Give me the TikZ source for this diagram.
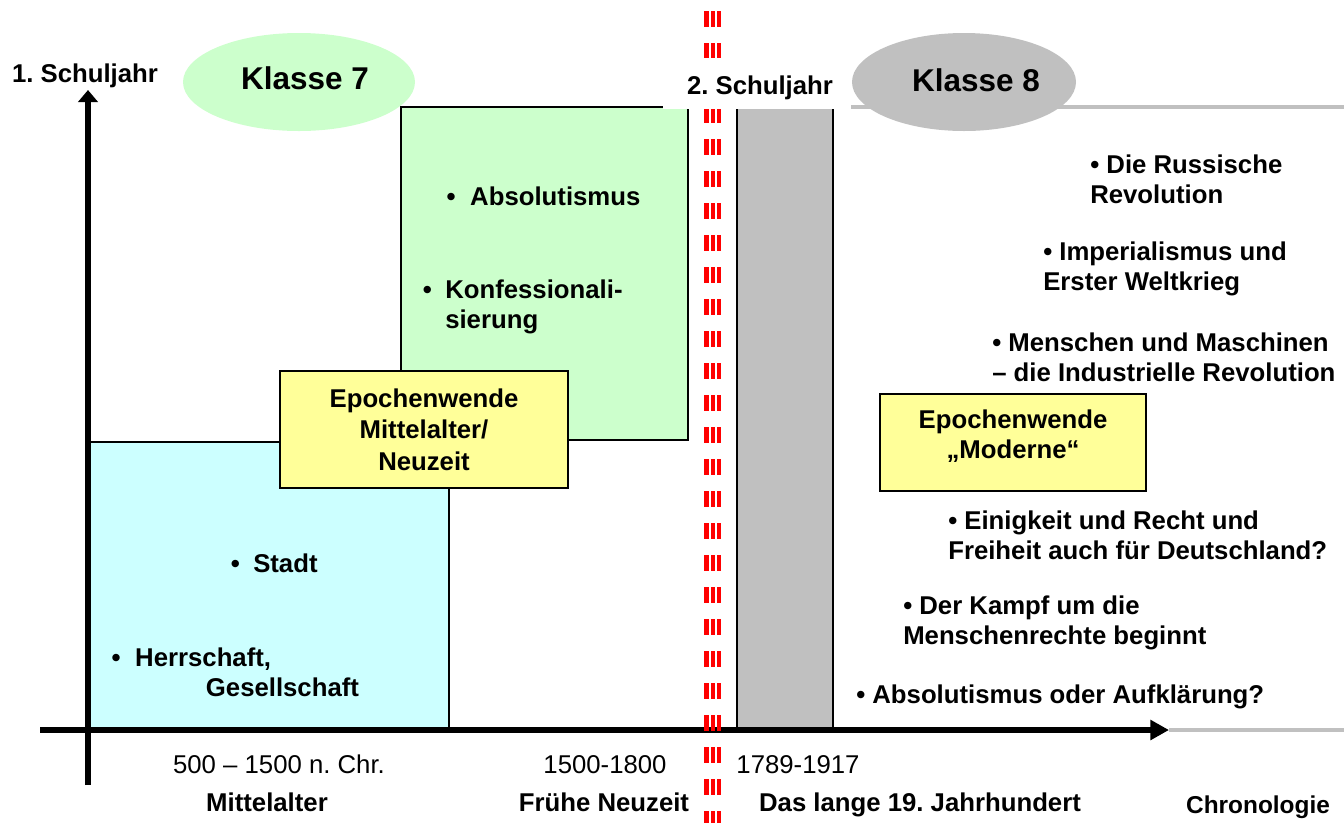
\documentclass[tikz,border=0pt]{standalone}
\usepackage{fontspec}
\setmainfont{Liberation Sans}
\usetikzlibrary{arrows.meta,shapes.geometric}
\definecolor{boxgreen}{HTML}{CCFFCC}
\definecolor{boxcyan}{HTML}{CCFFFF}
\definecolor{boxyellow}{HTML}{FFFF99}
\definecolor{barGray}{HTML}{C0C0C0}
\newcommand{\bodyfont}{\fontsize{19.3}{22.5}\selectfont\bfseries}
\newcommand{\wendefont}{\fontsize{19.3}{23.5}\selectfont\bfseries}
\newcommand{\datefont}{\fontsize{19.3}{22.5}\selectfont}
\newcommand{\bigfont}{\fontsize{23.6}{27}\selectfont\bfseries}
\newcommand{\bul}{\textbullet}
\frenchspacing
\begin{document}
\begin{tikzpicture}[x=0.75pt,y=-0.75pt,
  panel/.style={draw=black,line width=1.2pt,inner sep=0pt,outer sep=0pt},
  wende/.style={panel,fill=boxyellow,line width=1.6pt},
  txt/.style={font=\bodyfont,inner sep=0pt,align=left,anchor=west},
  ctxt/.style={font=\bodyfont,inner sep=0pt,align=center},
  btxt/.style={font=\bodyfont,inner sep=0pt,anchor=base},
  datelbl/.style={font=\datefont,inner sep=0pt,anchor=base},
  klasse/.style={ellipse,inner sep=0pt,draw=none},
  axisline/.style={line width=4.5pt},
  redbar/.style={draw=red,line width=3.4pt,dash pattern=on 12pt off 12pt},
  grayline/.style={draw=barGray,line width=3pt},
]
\useasboundingbox (0,0) rectangle (1344,822);

% year ellipses and top line
\node[klasse,fill=boxgreen,minimum width=232*0.75pt,minimum height=98*0.75pt] (k7) at (299,82) {};
\coordinate (topL) at (851,107);
\coordinate (topR) at (1344,107);
\draw[grayline] (topL) -- (topR);
\node[klasse,fill=barGray,minimum width=224*0.75pt,minimum height=98*0.75pt] (k8) at (964,82) {};
\node[font=\bigfont,inner sep=0pt,anchor=base] (k7t) at (305,89) {Klasse 7};
\node[font=\bigfont,inner sep=0pt,anchor=base] (k8t) at (976,91) {Klasse 8};

% epoch panels
\node[panel,fill=boxcyan,minimum width=359*0.75pt,minimum height=288*0.75pt] (mittel) at (269.5,586) {};
\node[panel,fill=boxgreen,minimum width=287*0.75pt,minimum height=333*0.75pt] (fneu) at (544.5,273.5) {};
\node[wende,minimum width=288*0.75pt,minimum height=117*0.75pt,font=\wendefont,align=center] (wende1) at (424,429.5) {Epochenwende\\Mittelalter/\\Neuzeit};
\node[panel,fill=barGray,minimum width=96*0.75pt,minimum height=623*0.75pt] (bar) at (785,418.5) {};
\node[wende,minimum width=266*0.75pt,minimum height=97*0.75pt] (wende2) at (1013,442.5) {};
\node[ctxt] (wende2t) at (1013,436) {Epochenwende\\„Moderne“};

% axes
\coordinate (yfoot) at (88,785);
\coordinate (ytip) at (88,90);
\coordinate (xfoot) at (40,730);
\coordinate (xtip) at (1169,730);
\coordinate (xend) at (1344,730);
\draw[grayline] (xtip) -- (xend);
\draw[axisline,-{Triangle[length=9pt,width=14.5pt]}] (yfoot) -- (ytip);
\draw[axisline,-{Triangle[length=14pt,width=14.5pt]}] (xfoot) -- (xtip);

% red school-year divider
\foreach \xx/\nm in {706.6/ra,713/rb,719.2/rc}{
  \coordinate (\nm t) at (\xx,11);
  \coordinate (\nm b) at (\xx,840);
  \draw[redbar] (\nm t) -- (\nm b);
}

% labels
\node[fill=white,inner sep=0pt,minimum width=188*0.75pt,minimum height=50.5*0.75pt] (sj2box) at (757,83.25) {};
\node[btxt] (sj2) at (760,94) {2. Schuljahr};
\node[btxt] (sj1) at (85,82) {1. Schuljahr};

% items Mittelalter / Frühe Neuzeit
\node[txt] (absol) at (470,196) {\llap{\bul\hspace{11pt}}Absolutismus};
\node[txt] (konf) at (445,307) {\llap{\bul\hspace{10pt}}Konfessionali-\\sierung};
\node[txt] (stadt) at (253,563) {\llap{\bul\hspace{10pt}}Stadt};
\node[txt] (herr) at (135,672.5) {\llap{\bul\hspace{11pt}}Herrschaft,\\\hspace*{53pt}Gesellschaft};

% items 19th century
\node[txt] (russ) at (1090,179.5) {\bul{} Die Russische\\Revolution};
\node[txt] (imp) at (1043,268.5) {\bul{} Imperialismus und\\Erster Weltkrieg};
\node[txt] (ind) at (992,357.5) {\bul{} Menschen und Maschinen\\– die Industrielle Revolution};
\node[txt] (einig) at (948,535.5) {\bul{} Einigkeit und Recht und\\Freiheit auch für Deutschland?};
\node[txt] (kampf) at (903,622.5) {\bul{} Der Kampf um die\\Menschenrechte beginnt};
\node[txt] (aufkl) at (856,697) {\bul{} Absolutismus oder Aufklärung?};

% axis labels
\node[datelbl] (d1) at (279,773) {500 – 1500 n. Chr.};
\node[datelbl] (d2) at (605,773) {1500-1800};
\node[datelbl] (d3) at (798,773) {1789-1917};
\node[btxt] (e1) at (267,811) {Mittelalter};
\node[btxt] (e2) at (604,811) {Frühe Neuzeit};
\node[btxt] (e3) at (920,811) {Das lange 19. Jahrhundert};
\node[btxt,font=\fontsize{18.3}{21}\selectfont\bfseries] (chron) at (1258,813) {Chronologie};
\end{tikzpicture}
\end{document}
